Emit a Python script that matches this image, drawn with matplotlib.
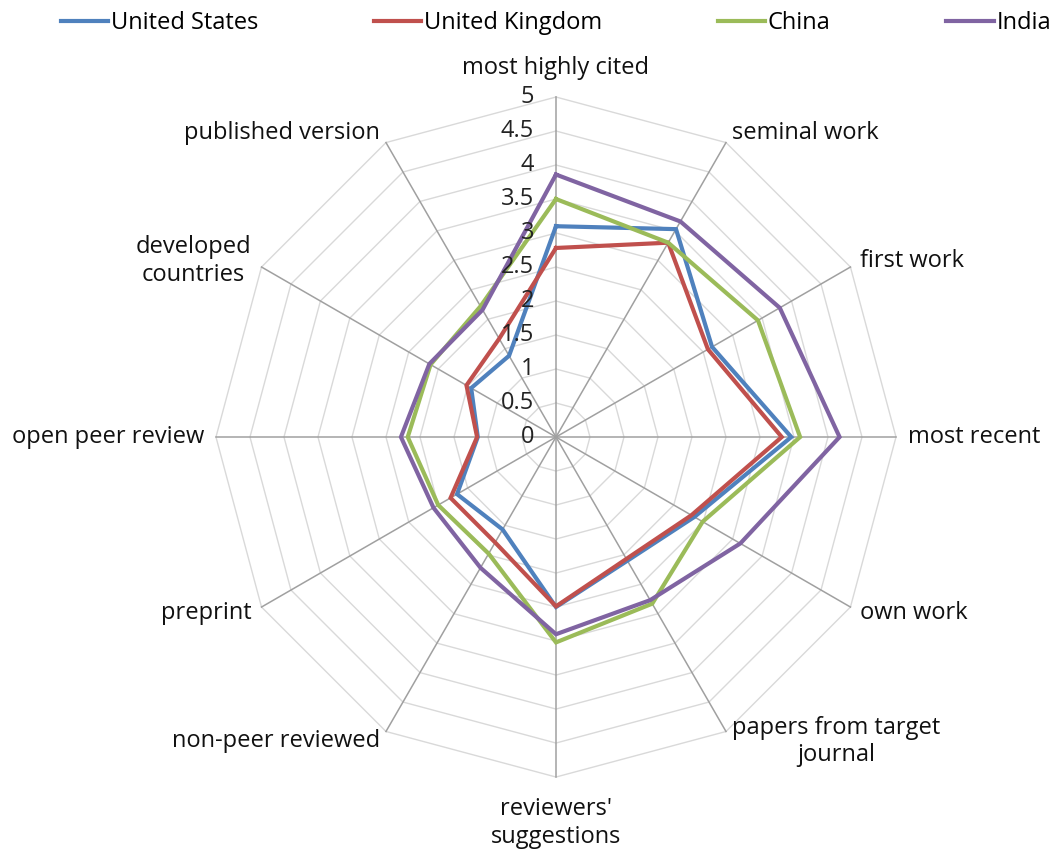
import numpy as np
import matplotlib
matplotlib.use("Agg")
import matplotlib.pyplot as plt
import matplotlib.lines as mlines
from matplotlib.transforms import offset_copy

plt.rcParams['font.family'] = ['Open Sans', 'DejaVu Sans']

categories = ['most highly cited', 'seminal work', 'first work', 'most recent',
              'own work', 'papers from target\njournal', "reviewers'\nsuggestions",
              'non-peer reviewed', 'preprint', 'open peer review',
              'developed\ncountries', 'published version']

united_states = [3.10, 3.53, 2.65, 3.46, 2.35, 2.10, 2.50, 1.57, 1.68, 1.15, 1.44, 1.38]
united_kingdom = [2.78, 3.30, 2.58, 3.32, 2.30, 2.07, 2.49, 1.79, 1.79, 1.16, 1.52, 1.67]
china = [3.50, 3.30, 3.43, 3.59, 2.49, 2.83, 3.02, 1.98, 2.00, 2.18, 2.13, 2.22]
india = [3.86, 3.66, 3.80, 4.17, 3.13, 2.77, 2.90, 2.22, 2.08, 2.28, 2.15, 2.16]

series_names = ['United States', 'United Kingdom', 'China', 'India']
series_colors = ['#4F81BD', '#C0504D', '#9BBB59', '#8064A2']

ticks = np.arange(0, 5.01, 0.5)
tick_labels = ['0', '0.5', '1', '1.5', '2', '2.5', '3', '3.5', '4', '4.5', '5']

n = len(categories)
theta = np.linspace(0, 2 * np.pi, n, endpoint=False)
theta_closed = np.append(theta, theta[0])

fig = plt.figure(figsize=(10.53, 8.57), dpi=100)
ax = fig.add_axes([0.2051, 0.0933, 0.6458, 0.7935], projection='polar')
ax.set_theta_zero_location('N')
ax.set_theta_direction(-1)
ax.set_ylim(0, 5)
ax.set_axis_off()

# polygon grid
for lev in ticks[1:]:
    ax.plot(theta_closed, [lev] * (n + 1), color='#D9D9D9', lw=1.0, zorder=1, clip_on=False)
for t in theta:
    ax.plot([t, t], [0, 5], color='#A0A0A0', lw=1.1, zorder=2, clip_on=False)

vals = [united_states, united_kingdom, china, india]
for name, v, c in zip(series_names, vals, series_colors):
    ax.plot(theta_closed, v + v[:1], color=c, lw=3.0, zorder=3, clip_on=False,
            solid_joinstyle='miter')

# radial tick labels
tr = offset_copy(ax.transData, fig=fig, x=-22, y=0, units='dots')
for val, lab in zip(ticks, tick_labels):
    ax.text(0, val, lab, transform=tr, ha='right', va='center', fontsize=17,
            color='#222222', zorder=4)

# category labels
for t, lab in zip(theta, categories):
    s, c = np.sin(t), np.cos(t)
    if abs(s) < 0.1:
        ha = 'center'
        va = 'bottom' if c > 0 else 'top'
        r = 5.25 if c > 0 else 5.3
    else:
        ha = 'left' if s > 0 else 'right'
        va = 'center'
        r = 5.17
    ax.text(t, r, lab, ha=ha, va=va, multialignment='center', fontsize=17,
            color='#111111', linespacing=1.2)

handles = [mlines.Line2D([], [], color=c, lw=3) for c in series_colors]
fig.legend(handles, series_names, loc='upper center', bbox_to_anchor=(0.528, 1.012),
           ncol=4, frameon=False, fontsize=17, handlelength=2.0, handletextpad=0.12,
           columnspacing=4.9)

fig.savefig('out.png', dpi=100, facecolor='white')
